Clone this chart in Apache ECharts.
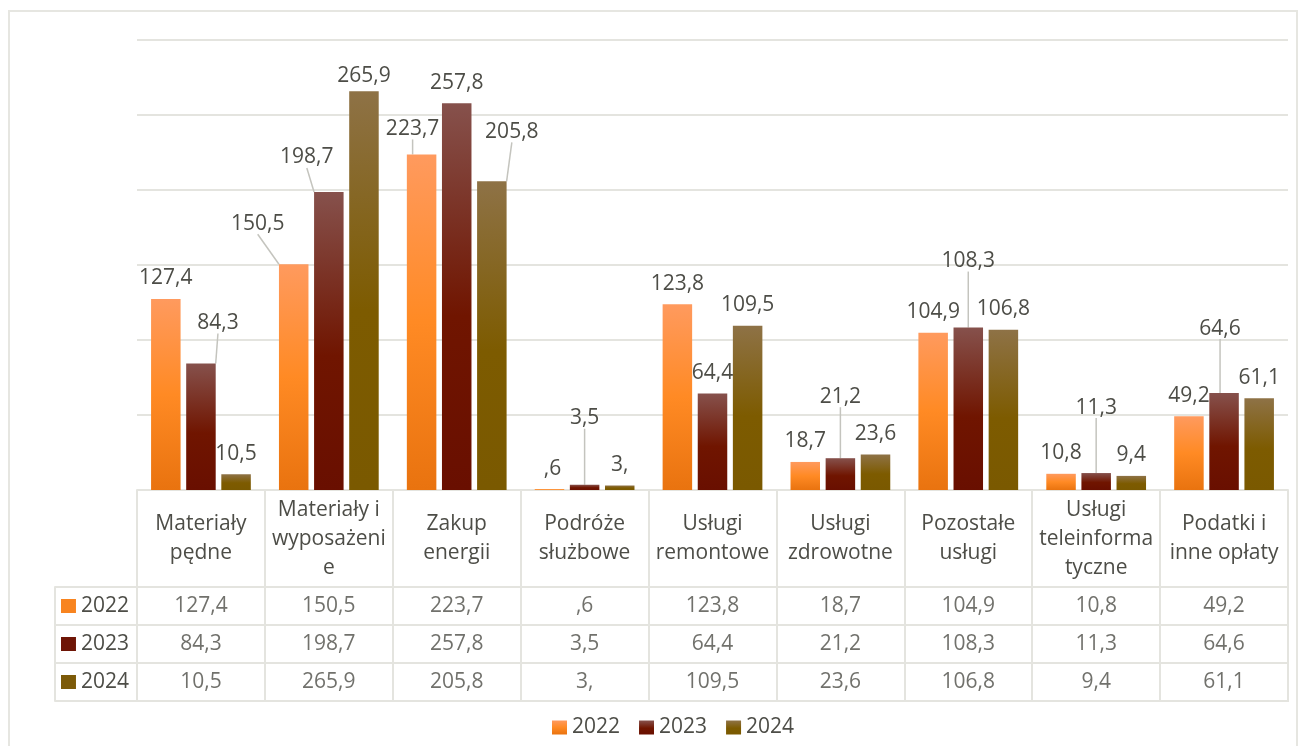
<!DOCTYPE html>
<html>
<head>
<meta charset="utf-8">
<script src="https://cdn.jsdelivr.net/npm/echarts@6/dist/echarts.min.js"></script>
<style>
html,body{margin:0;padding:0;background:#fff;}
#frame{position:absolute;left:8px;top:10px;width:1290px;height:760px;border:2px solid #E6E6E1;box-sizing:border-box;}
#chart{position:absolute;left:0;top:0;width:1308px;height:746px;}
</style>
</head>
<body>
<div id="frame"></div>
<div id="chart"></div>
<script>
// ---- data ----
const categories = ['Materiały pędne','Materiały i wyposażenie','Zakup energii','Podróże służbowe','Usługi remontowe','Usługi zdrowotne','Pozostałe usługi','Usługi teleinformatyczne','Podatki i inne opłaty'];
const years = ['2022','2023','2024'];
const values2022 = [127.4,150.5,223.7,0.6,123.8,18.7,104.9,10.8,49.2];
const values2023 = [84.3,198.7,257.8,3.5,64.4,21.2,108.3,11.3,64.6];
const values2024 = [10.5,265.9,205.8,3.0,109.5,23.6,106.8,9.4,61.1];
const yMin = 0, yMax = 300, yStep = 50;

// ---- styling / layout ----
const TXT = '#4D4D47';
const LINE = '#E4E4DF';
const FONT = 'Open Sans';
const FS = 21;
const CELL_TEXT_W = 120;
const grads = [
  [['0','#FF9A5E'],['0.5','#FF8A24'],['1','#E9730F']],
  [['0','#86514C'],['0.55','#701500'],['1','#690F00']],
  [['0','#8E7246'],['0.55','#7D5B00'],['1','#7A5900']]
];
const solid = ['#F8841F','#6E1506','#7C5A08'];
// label shifts [dx,dy] per series per category (label placement only)
const shifts = [
  {1:[-36,-20],2:[-9,-5],3:[3,0]},
  {0:[17,-20],1:[-22,-14],3:[0,-46],5:[0,-41],6:[0,-46],7:[0,-45],8:[-4,-44]},
  {1:[0,5],2:[20,-29]}
];

function fmt(v){
  const p = Number(v).toFixed(1).split('.');
  return (p[0]==='0'?'':p[0]) + ',' + (p[1]==='0'?'':p[1]);
}
function grad(stops){
  return new echarts.graphic.LinearGradient(0,0,0,1, stops.map(s=>({offset:+s[0],color:s[1]})));
}
const ctx = document.createElement('canvas').getContext('2d');
ctx.font = FS + 'px "' + FONT + '"';
function tw(s){ return ctx.measureText(s).width; }
function wrapCell(text){
  const words = text.split(' ');
  const lines = [];
  let cur = '';
  words.forEach(w => {
    const cand = cur ? cur + ' ' + w : w;
    if (tw(cand) <= CELL_TEXT_W) { cur = cand; return; }
    if (cur) lines.push(cur);
    cur = w;
    while (tw(cur) > CELL_TEXT_W) {
      let k = cur.length - 1;
      while (k > 1 && tw(cur.slice(0, k)) > CELL_TEXT_W) k--;
      lines.push(cur.slice(0, k));
      cur = cur.slice(k);
    }
  });
  if (cur) lines.push(cur);
  return lines.join('\n');
}

const seriesValues = [values2022, values2023, values2024];
const barSeries = seriesValues.map((vals, si) => ({
  name: years[si],
  type: 'bar',
  xAxisIndex: 0, yAxisIndex: 0,
  barCategoryGap: '22%',
  barGap: '19%',
  itemStyle: { color: grad(grads[si]) },
  label: {
    show: true, position: 'top', distance: 10,
    fontFamily: FONT, fontSize: FS, color: TXT,
    formatter: p => fmt(p.value)
  },
  labelLayout: p => {
    const s = shifts[si][p.dataIndex];
    return s ? { dx: s[0], dy: s[1] } : {};
  },
  data: vals.map((v, i) => {
    const s = shifts[si][i];
    const moved = s && (Math.abs(s[0]) + Math.abs(s[1]) > 12);
    return { value: v, labelLine: { show: !!moved, lineStyle: { color: '#C4C4BE', width: 1.5 } } };
  })
}));

const tableData = [];
seriesValues.forEach((vals, r) => vals.forEach((v, i) => tableData.push([categories[i], years[r], v])));

const option = {
  animation: false,
  textStyle: { fontFamily: FONT },
  legend: {
    data: years, left: 547, top: 712,
    itemWidth: 15, itemHeight: 14, itemGap: 19,
    icon: 'rect',
    textStyle: { fontFamily: FONT, fontSize: FS, color: TXT }
  },
  grid: [
    { left: 137, right: 20, top: 40, bottom: 256 },
    { left: 137, right: 20, top: 587, bottom: 45, show: true, borderColor: LINE, borderWidth: 2 }
  ],
  xAxis: [
    {
      type: 'category', gridIndex: 0, data: categories,
      axisLine: { show: true, lineStyle: { color: LINE, width: 2 } },
      axisTick: { show: true, length: 97, interval: 0, lineStyle: { color: LINE, width: 2 } },
      axisLabel: {
        interval: 0, margin: 49, verticalAlign: 'middle', lineHeight: 29,
        fontFamily: FONT, fontSize: FS, color: TXT,
        formatter: v => wrapCell(v)
      }
    },
    {
      type: 'category', gridIndex: 1, data: categories,
      axisLine: { show: true, lineStyle: { color: LINE, width: 2 } },
      axisTick: { show: false },
      axisLabel: { show: false },
      splitLine: { show: true, interval: 0, lineStyle: { color: LINE, width: 2 } }
    }
  ],
  yAxis: [
    {
      type: 'value', gridIndex: 0, min: yMin, max: yMax, interval: yStep,
      axisLine: { show: false }, axisTick: { show: false }, axisLabel: { show: false },
      splitLine: { show: true, lineStyle: { color: LINE, width: 2 } }
    },
    {
      type: 'category', gridIndex: 1, data: years, inverse: true,
      axisLine: { show: true, lineStyle: { color: LINE, width: 2 } },
      axisTick: { show: true, length: 82, interval: 0, lineStyle: { color: LINE, width: 2 } },
      splitLine: { show: true, interval: 0, lineStyle: { color: LINE, width: 2 } },
      axisLabel: {
        margin: 8,
        formatter: (v, idx) => '{s' + idx + '|}{t|' + v + '}',
        rich: {
          s0: { width: 15, height: 14, backgroundColor: solid[0] },
          s1: { width: 15, height: 14, backgroundColor: solid[1] },
          s2: { width: 15, height: 14, backgroundColor: solid[2] },
          t: { fontFamily: FONT, fontSize: FS, color: TXT, padding: [0, 0, 0, 5] }
        }
      }
    },
    {
      type: 'value', gridIndex: 1, position: 'left', offset: 82,
      axisLine: { show: true, lineStyle: { color: LINE, width: 2 } },
      axisTick: { show: false }, axisLabel: { show: false }, splitLine: { show: false }
    }
  ],
  series: barSeries.concat([{
    name: 'table', type: 'scatter', xAxisIndex: 1, yAxisIndex: 1,
    symbol: 'rect', symbolSize: 1, itemStyle: { color: 'rgba(0,0,0,0)' },
    label: {
      show: true, position: 'inside',
      fontFamily: FONT, fontSize: FS, color: TXT,
      formatter: p => fmt(p.value[2])
    },
    data: tableData
  }])
};

const chart = echarts.init(document.getElementById('chart'), null, { renderer: 'canvas' });
chart.setOption(option);
</script>
</body>
</html>
